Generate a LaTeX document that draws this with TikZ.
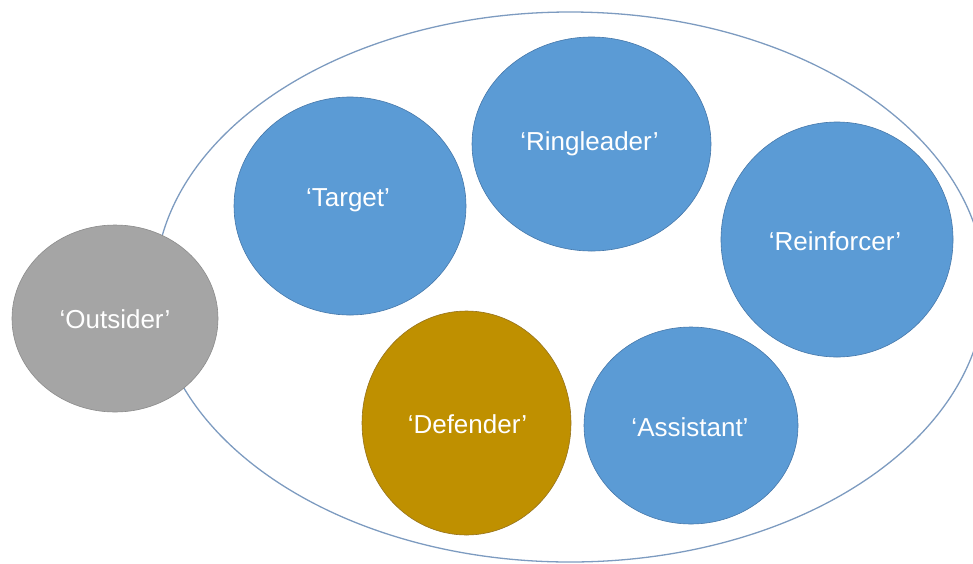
\documentclass[tikz,border=0pt]{standalone}
\usepackage{fontspec}
\setmainfont{Liberation Sans}
\usetikzlibrary{shapes.geometric}
\definecolor{roleblue}{RGB}{91,155,213}
\definecolor{roleblueedge}{RGB}{70,120,170}
\definecolor{rolegold}{RGB}{191,144,0}
\definecolor{rolegoldedge}{RGB}{150,115,30}
\definecolor{rolegray}{RGB}{165,165,165}
\definecolor{rolegrayedge}{RGB}{140,140,140}
\definecolor{groupline}{RGB}{125,155,192}
\tikzset{
  role/.style={ellipse, inner sep=0pt, line width=0.6pt},
  bluerole/.style={role, fill=roleblue, draw=roleblueedge},
  goldrole/.style={role, fill=rolegold, draw=rolegoldedge},
  grayrole/.style={role, fill=rolegray, draw=rolegrayedge},
  rolelabel/.style={text=white, inner sep=0pt, font=\fontsize{26}{31}\selectfont, text height=18.6pt, text depth=0pt},
  group/.style={ellipse, inner sep=0pt, draw=groupline, line width=1.3pt}
}
\begin{document}
\begin{tikzpicture}[x=1pt,y=-1pt]
\useasboundingbox (0,0) rectangle (973,563);
\clip (0,0) rectangle (973,563);
\node[group, minimum width=830pt, minimum height=550pt] (class) at (570,287) {};
\node[bluerole, minimum width=232pt, minimum height=218pt] (target) at (350,206) {};
\node[bluerole, minimum width=239pt, minimum height=214pt] (ringleader) at (591.5,144) {};
\node[bluerole, minimum width=232pt, minimum height=235pt] (reinforcer) at (837,239.5) {};
\node[goldrole, minimum width=209pt, minimum height=224pt] (defender) at (466.5,423) {};
\node[bluerole, minimum width=214pt, minimum height=197pt] (assistant) at (691,425.5) {};
\node[grayrole, minimum width=206pt, minimum height=187pt] (outsider) at (115,318.5) {};
\node[rolelabel] (targetlbl) at (348,197) {‘Target’};
\node[rolelabel] (ringleaderlbl) at (589.5,140.7) {‘Ringleader’};
\node[rolelabel] (reinforcerlbl) at (835,240.7) {‘Reinforcer’};
\node[rolelabel] (defenderlbl) at (467.5,423.7) {‘Defender’};
\node[rolelabel] (assistantlbl) at (690,426.7) {‘Assistant’};
\node[rolelabel] (outsiderlbl) at (115,319) {‘Outsider’};
\end{tikzpicture}
\end{document}
